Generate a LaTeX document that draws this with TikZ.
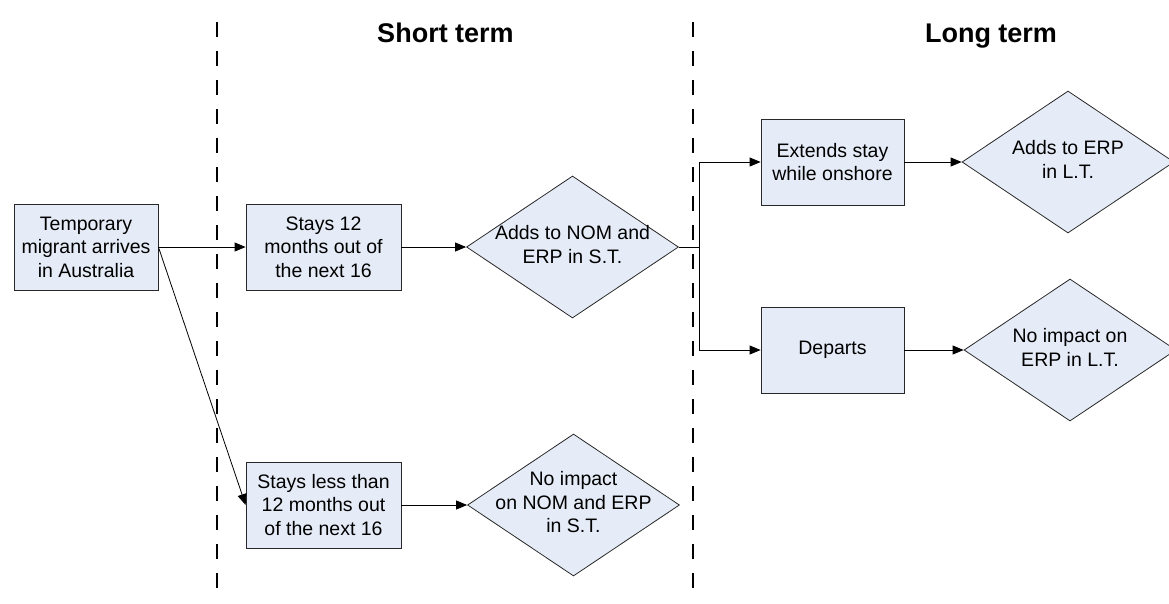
\documentclass[tikz,border=0pt]{standalone}
\usepackage{fontspec}
\setmainfont{Liberation Sans}
\usetikzlibrary{shapes.geometric,arrows.meta}
\definecolor{boxfill}{RGB}{230,236,247}
\definecolor{edgecol}{RGB}{40,40,40}
\newcommand{\dtxt}[1]{\makebox[0pt]{\smash{\raisebox{-0.25em}{\begin{tabular}{@{}c@{}}#1\end{tabular}}}}}
\newcommand{\bodyfont}{\fontsize{19.5}{23.5}\selectfont}
\newcommand{\titlefont}{\fontsize{27}{32}\selectfont\bfseries}
\begin{document}
\begin{tikzpicture}[x=1pt,y=-1pt,
  procbox/.style={draw=edgecol, fill=boxfill, line width=0.8pt, minimum width=144pt, minimum height=86pt, align=center, inner sep=2pt, font=\bodyfont},
  decision/.style={diamond, draw=edgecol, fill=boxfill, line width=0.8pt, minimum width=212pt, minimum height=142pt, inner sep=0pt, font=\bodyfont},
  arr/.style={-{Triangle[length=11pt,width=9pt]}, line width=0.8pt},
  divider/.style={line width=2pt, dash pattern=on 15pt off 14pt},
  heading/.style={font=\titlefont, inner sep=0pt, anchor=base}]
\useasboundingbox (0,0) rectangle (1169,603);
% dividers
\draw[divider] (217,22) -- (217,591);
\draw[divider] (693,22) -- (693,591);
% headings
\node[heading] (hshort) at (445.5,42) {Short term};
\node[heading] (hlong) at (991,42) {Long term};
% boxes
\node[procbox] (arrive) at (86,247) {Temporary\\migrant arrives\\in Australia};
\node[procbox, minimum width=155pt] (stay12) at (323.5,247) {Stays 12\\months out of\\the next 16};
\node[procbox, minimum width=155pt] (stayless) at (323.5,505) {Stays less than\\12 months out\\of the next 16};
\node[procbox, minimum width=143pt] (extends) at (832.5,162) {Extends stay\\while onshore};
\node[procbox, minimum width=143pt] (departs) at (832.5,350) {Departs};
% decisions
\node[decision] (addst) at (572.5,247) {\dtxt{Adds to NOM and\\ERP in S.T.}};
\node[decision] (noimpst) at (573.5,505) {\dtxt{No impact\\on NOM and ERP\\in S.T.}};
\node[decision] (addlt) at (1068,162) {\dtxt{Adds to ERP\\in L.T.}};
\node[decision] (noimplt) at (1070,350) {\dtxt{No impact on\\ERP in L.T.}};
% connectors
\coordinate (branch) at (699,247);
\draw[arr] (arrive.east) -- (stay12.west);
\draw[arr] (arrive.east) -- (stayless.west);
\draw[arr] (stay12.east) -- (addst.west);
\draw[arr] (stayless.east) -- (noimpst.west);
\draw[line width=0.8pt] (addst.east) -- (branch);
\draw[arr] (branch) |- (extends.west);
\draw[arr] (branch) |- (departs.west);
\draw[arr] (extends.east) -- (addlt.west);
\draw[arr] (departs.east) -- (noimplt.west);
\end{tikzpicture}
\end{document}
